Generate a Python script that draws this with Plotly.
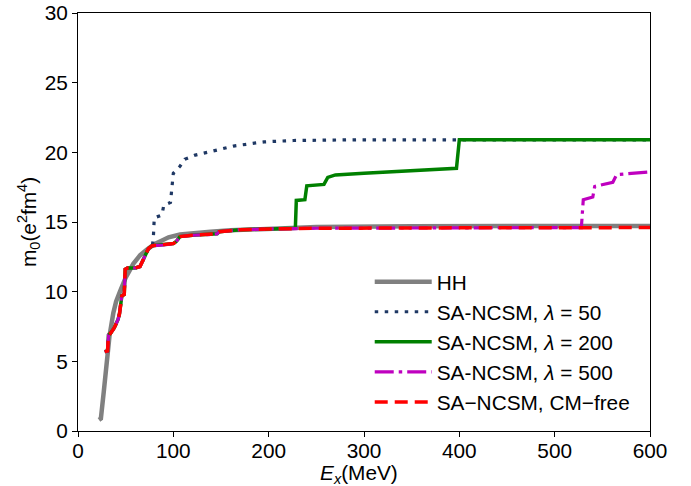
import plotly.graph_objects as go

# ---------------- data ----------------
hh_E = [22, 24, 27, 30, 33, 37, 40, 44, 50, 58, 65, 72, 80, 86, 95, 107, 120, 139, 160, 191, 250, 350, 600]
hh_m = [0.8, 0.9, 2.8, 4.9, 6.8, 8.45, 9.3, 10.0, 11.0, 12.0, 12.6, 13.0, 13.4, 13.6, 13.9, 14.1, 14.2, 14.3, 14.4, 14.5, 14.65, 14.7, 14.72]

base_E = [28, 31, 32, 34, 38, 42, 43.5, 45, 46, 48.5, 49.5, 52, 60, 65, 68, 71, 74, 78, 90, 100, 103, 107, 120, 140, 146, 148, 170, 200, 250, 400]
base_m = [5.7, 5.75, 6.9, 7.0, 7.4, 8.0, 8.4, 9.4, 9.7, 9.8, 11.6, 11.7, 11.7, 11.8, 12.2, 12.7, 13.1, 13.3, 13.35, 13.45, 13.6, 13.95, 14.05, 14.1, 14.15, 14.3, 14.45, 14.5, 14.55, 14.58]

cm_E = base_E + [600]
cm_m = base_m + [14.6]

l50_E = [28, 31, 32, 34, 38, 42, 43.5, 45, 46, 48.5, 49.5, 52, 60, 65, 68, 71, 74, 78, 79, 80, 88, 90, 97, 100, 107, 112, 123, 142, 163, 195, 226, 293, 600]
l50_m = [5.7, 5.75, 6.9, 7.0, 7.4, 8.0, 8.4, 9.4, 9.7, 9.8, 11.6, 11.7, 11.7, 11.8, 12.2, 12.7, 13.1, 13.3, 13.8, 15.3, 15.5, 16.2, 16.4, 18.5, 19.0, 19.5, 19.8, 20.1, 20.45, 20.75, 20.85, 20.9, 20.9]

l200_E = [e for e in base_E if e < 228] + [228, 229, 238, 240, 258, 262, 270, 300, 350, 397, 400, 600]
l200_m = [m for e, m in zip(base_E, base_m) if e < 228] + [14.55, 16.55, 16.6, 17.6, 17.7, 18.2, 18.38, 18.5, 18.7, 18.85, 20.9, 20.9]

l500_E = base_E + [528, 530, 540, 542, 561, 565, 577, 600]
l500_m = base_m + [14.6, 16.6, 16.8, 17.55, 17.85, 18.4, 18.45, 18.6]

names = ["HH", "SA-NCSM, <i>λ</i> = 50", "SA-NCSM, <i>λ</i> = 200",
         "SA-NCSM, <i>λ</i> = 500", "SA−NCSM, CM−free"]

x_ticks = [0, 100, 200, 300, 400, 500, 600]
y_ticks = [0, 5, 10, 15, 20, 25, 30]

FS = 20.8

# ---------------- figure ----------------
fig = go.Figure()
series = [
    (hh_E, hh_m, dict(color="#808080", width=4.5, dash="solid")),
    (l50_E, l50_m, dict(color="#1f3864", width=3.2, dash="3.5px,6.5px")),
    (l200_E, l200_m, dict(color="#008000", width=3.5, dash="solid")),
    (l500_E, l500_m, dict(color="#bf00bf", width=3.2, dash="19px,5px,3.5px,5px")),
    (cm_E, cm_m, dict(color="#ff0000", width=3.5, dash="13px,7px")),
]
for i, (x, y, ln) in enumerate(series):
    fig.add_trace(go.Scatter(x=x, y=y, mode="lines", line=ln, name=names[i]))

axis_common = dict(showline=True, linecolor="black", linewidth=1, mirror=True,
                   ticks="outside", ticklen=5, tickcolor="black", showgrid=False,
                   zeroline=False, automargin=False,
                   tickfont=dict(size=FS, color="black"))

fig.update_layout(
    width=691, height=486,
    margin=dict(l=78, r=41, t=13, b=55, autoexpand=False),
    paper_bgcolor="white", plot_bgcolor="white",
    font=dict(family="Liberation Sans, Arial, sans-serif", color="black", size=FS),
    xaxis=dict(range=[0, 600], tickvals=x_ticks, ticklabelstandoff=-4, **axis_common),
    yaxis=dict(range=[0, 30], tickvals=y_ticks, **axis_common),
    legend=dict(x=0.51, xanchor="left", y=0.405, yanchor="top",
                font=dict(size=FS), itemwidth=57,
                bgcolor="rgba(255,255,255,0)"),
    annotations=[
        dict(text="<i>E</i><sub><i>x</i></sub>(MeV)", xref="paper", yref="paper",
             x=0.5, y=0, xanchor="center", yanchor="middle", yshift=-43, xshift=-5,
             showarrow=False, font=dict(size=FS)),
        dict(text="m<sub>0</sub>(e<sup>2</sup>fm<sup>4</sup>)", xref="paper", yref="paper",
             x=0, y=0.5, xanchor="center", yanchor="middle", xshift=-50, textangle=-90,
             showarrow=False, font=dict(size=FS)),
    ],
)

fig.write_html("out.html", config={"displayModeBar": False},
               post_script="document.body.style.margin='0';")
